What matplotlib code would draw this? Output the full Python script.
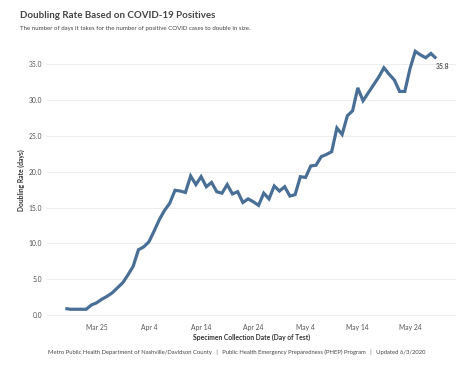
import matplotlib
matplotlib.use("Agg")
import matplotlib.pyplot as plt
import matplotlib.dates as mdates
import numpy as np

start_date = "2020-03-19"
values = [0.9, 0.8, 0.8, 0.8, 0.8, 1.4, 1.7, 2.2, 2.6, 3.1, 3.8, 4.5, 5.6,
          6.8, 9.1, 9.5, 10.2, 11.7, 13.3, 14.6, 15.6, 17.4, 17.3, 17.1,
          19.4, 18.2, 19.3, 17.9, 18.5, 17.2, 17.0, 18.2, 16.9, 17.2, 15.7,
          16.2, 15.8, 15.3, 17.0, 16.2, 18.0, 17.3, 17.9, 16.6, 16.8, 19.3,
          19.2, 20.8, 20.9, 22.1, 22.4, 22.8, 26.1, 25.2, 27.8, 28.5, 31.7,
          29.9, 31.0, 32.1, 33.2, 34.5, 33.6, 32.8, 31.2, 31.2, 34.4, 36.8,
          36.3, 35.9, 36.5, 35.8]
tick_dates = ["2020-03-25", "2020-04-04", "2020-04-14", "2020-04-24",
              "2020-05-04", "2020-05-14", "2020-05-24"]
tick_labels = ["Mar 25", "Apr 4", "Apr 14", "Apr 24", "May 4", "May 14", "May 24"]
y_ticks = [0, 5, 10, 15, 20, 25, 30, 35]

title = "Doubling Rate Based on COVID-19 Positives"
subtitle = "The number of days it takes for the number of positive COVID cases to double in size."
xlabel = "Specimen Collection Date (Day of Test)"
ylabel = "Doubling Rate (days)"
footer = ("Metro Public Health Department of Nashville/Davidson County   |   "
          "Public Health Emergency Preparedness (PHEP) Program   |   Updated 6/3/2020")

dates = np.array([np.datetime64(start_date) + np.timedelta64(i, "D") for i in range(len(values))])

plt.rcParams['font.family'] = ['Lato', 'DejaVu Sans']

W, H = 474, 366
fig = plt.figure(figsize=(W / 100, H / 100), dpi=100)
ax = fig.add_axes([47 / W, 1 - 318 / H, (456 - 47) / W, (318 - 42) / H])

line_color = "#4a6f96"
ax.plot(dates, values, color=line_color, linewidth=2.3, solid_joinstyle="miter",
        solid_capstyle="butt")

ref = mdates.date2num(np.datetime64("2020-03-25"))
ax.set_xlim(ref - 9.5, ref + 68.8)
ax.set_ylim(-0.42, 38.1)

ax.set_yticks(y_ticks)
ax.set_yticklabels([f"{v:.1f}" for v in y_ticks])
ax.set_xticks([mdates.date2num(np.datetime64(d)) for d in tick_dates])
ax.set_xticklabels(tick_labels)

ax.grid(axis="y", color="#ececec", linewidth=0.7)
ax.set_axisbelow(True)
for s in ax.spines.values():
    s.set_visible(False)
ax.tick_params(axis="both", length=0, labelsize=4.9, labelcolor="#555555")
ax.tick_params(axis="y", pad=3.5)
ax.tick_params(axis="x", pad=4)

ax.set_xlabel(xlabel, fontsize=4.9, fontweight="bold", color="#333333", labelpad=2)
ax.set_ylabel(ylabel, fontsize=4.9, fontweight="bold", color="#333333", labelpad=6)
ax.yaxis.set_label_coords(-(47 - 25) / (456 - 47), 0.5)

ax.annotate(f"{values[-1]:.1f}", xy=(dates[-1], values[-1]), xytext=(0, -3),
            textcoords="offset points", ha="left", va="top",
            fontsize=4.9, fontweight="bold", color="#555555")

fig.text(20 / W, 1 - 16 / H, title, fontsize=7.0, fontweight="bold", color="#444444",
         va="center", ha="left")
fig.text(20 / W, 1 - 28.5 / H, subtitle, fontsize=4.4, color="#444444", va="center", ha="left")
fig.text(237 / W, 1 - 352 / H, footer, fontsize=4.2, color="#444444", va="center", ha="center")

fig.savefig("out.png", dpi=100, facecolor="white")
